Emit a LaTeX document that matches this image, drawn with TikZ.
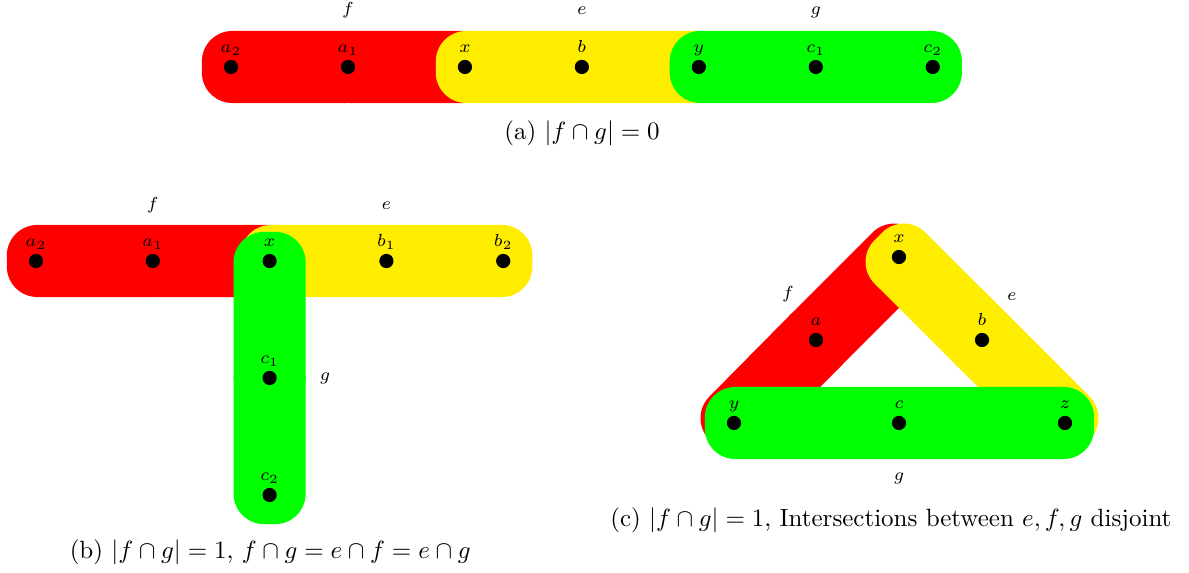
\documentclass[tikz,border=0pt]{standalone}
\usepackage{tikz}
\usetikzlibrary{positioning, backgrounds, calc}
\usepackage{xcolor}
\definecolor{fcolor}{RGB}{255,0,0}
\definecolor{ecolor}{RGB}{255,237,0}
\definecolor{gcolor}{RGB}{0,255,0}

% one piece of a hyperedge: a rounded band from #2 to #3
\newcommand{\hedgeseg}[3]{%
  \coordinate (hs1) at ($(#2.center)!-0.41cm!(#3.center)$);
  \coordinate (hs2) at ($(#3.center)!-0.41cm!(#2.center)$);
  \fill[#1, rounded corners=0.43cm]
    ($(hs1)!0.507cm!90:(#3.center)$) -- ($(hs2)!0.507cm!-90:(#2.center)$)
    -- ($(hs2)!0.507cm!90:(#2.center)$) -- ($(hs1)!0.507cm!-90:(#3.center)$)
    -- cycle;
}

\begin{document}
\begin{tikzpicture}
  \tikzset{
    vertex/.style={
      circle,
      fill=black,
      inner sep=0pt,
      minimum size=0.2cm
    },
    vlabel/.style={
      font=\scriptsize,
      inner sep=1pt,
      text depth=1.5pt
    },
    elabel/.style={
      font=\scriptsize,
      inner sep=0pt
    },
    caption/.style={
      inner sep=0pt
    }
  }
  \useasboundingbox (0,0) rectangle (16.723,-8.059);

  % (a) Draw the vertices of the path
    \node[vertex, label={[vlabel]above:$a_2$}] at (3.249, -0.942) (aa2) {};
    \node[vertex, label={[vlabel]above:$a_1$}] at (4.894, -0.942) (aa1) {};
    \node[vertex, label={[vlabel]above:$x$}] at (6.539, -0.942) (ax) {};
    \node[vertex, label={[vlabel]above:$b$}] at (8.184, -0.942) (ab) {};
    \node[vertex, label={[vlabel]above:$y$}] at (9.829, -0.942) (ay) {};
    \node[vertex, label={[vlabel]above:$c_1$}] at (11.474, -0.942) (ac1) {};
    \node[vertex, label={[vlabel]above:$c_2$}] at (13.119, -0.942) (ac2) {};

    % edge names
    \node[elabel, anchor=base] at (4.894, -0.211) (af) {$f$};
    \node[elabel, anchor=base] at (8.184, -0.211) (ae) {$e$};
    \node[elabel, anchor=base] at (11.474, -0.211) (ag) {$g$};

    \node[caption] at (8.186, -1.871) (capa) {(a) $|f \cap g| = 0$};

    \begin{scope}[on background layer]
      \hedgeseg{fcolor}{aa2}{aa1}
      \hedgeseg{fcolor}{aa1}{ax}
      \hedgeseg{ecolor}{ax}{ab}
      \hedgeseg{ecolor}{ab}{ay}
      \hedgeseg{gcolor}{ay}{ac1}
      \hedgeseg{gcolor}{ac1}{ac2}
    \end{scope}

  % (b) Draw the vertices of the T
    \node[vertex, label={[vlabel]above:$a_2$}] at (0.506, -3.671) (ba2) {};
    \node[vertex, label={[vlabel]above:$a_1$}] at (2.149, -3.671) (ba1) {};
    \node[vertex, label={[vlabel]above:$x$}] at (3.792, -3.671) (bx) {};
    \node[vertex, label={[vlabel]above:$b_1$}] at (5.435, -3.671) (bb1) {};
    \node[vertex, label={[vlabel]above:$b_2$}] at (7.078, -3.671) (bb2) {};
    \node[vertex, label={[vlabel]above:$c_1$}] at (3.792, -5.316) (bc1) {};
    \node[vertex, label={[vlabel]above:$c_2$}] at (3.792, -6.962) (bc2) {};

    % edge names
    \node[elabel, anchor=base] at (2.149, -2.94) (bf) {$f$};
    \node[elabel, anchor=base] at (5.435, -2.94) (be) {$e$};
    \node[elabel] at (4.571, -5.316) (bg) {$g$};

    \node[caption] at (3.80, -7.764) (capb)
      {(b) $|f \cap g| = 1$, $f \cap g = e \cap f = e \cap g$};

    \begin{scope}[on background layer]
      \hedgeseg{fcolor}{ba2}{ba1}
      \hedgeseg{fcolor}{ba1}{bx}
      \hedgeseg{ecolor}{bx}{bb1}
      \hedgeseg{ecolor}{bb1}{bb2}
      \hedgeseg{gcolor}{bx}{bc1}
      \hedgeseg{gcolor}{bc1}{bc2}
    \end{scope}

  % (c) Draw the vertices of the triangle
    \node[vertex, label={[vlabel]above:$x$}] at (12.644, -3.615) (cx) {};
    \node[vertex, label={[vlabel]above:$a$}] at (11.477, -4.782) (ca) {};
    \node[vertex, label={[vlabel]above:$b$}] at (13.812, -4.782) (cb) {};
    \node[vertex, label={[vlabel]above:$y$}] at (10.323, -5.949) (cy) {};
    \node[vertex, label={[vlabel]above:$c$}] at (12.644, -5.949) (cc) {};
    \node[vertex, label={[vlabel]above:$z$}] at (14.979, -5.949) (cz) {};

    % edge names
    \node[elabel] at (11.083, -4.135) (cf) {$f$};
    \node[elabel] at (14.233, -4.177) (ce) {$e$};
    \node[elabel] at (12.644, -6.723) (cg) {$g$};

    \node[caption] at (12.53, -7.314) (capc)
      {(c) $|f \cap g| = 1$, Intersections between $e, f, g$ disjoint};

    \begin{scope}[on background layer]
      \hedgeseg{fcolor}{cy}{ca}
      \hedgeseg{fcolor}{ca}{cx}
      \hedgeseg{ecolor}{cx}{cb}
      \hedgeseg{ecolor}{cb}{cz}
      \hedgeseg{gcolor}{cy}{cc}
      \hedgeseg{gcolor}{cc}{cz}
    \end{scope}

\end{tikzpicture}
\end{document}
